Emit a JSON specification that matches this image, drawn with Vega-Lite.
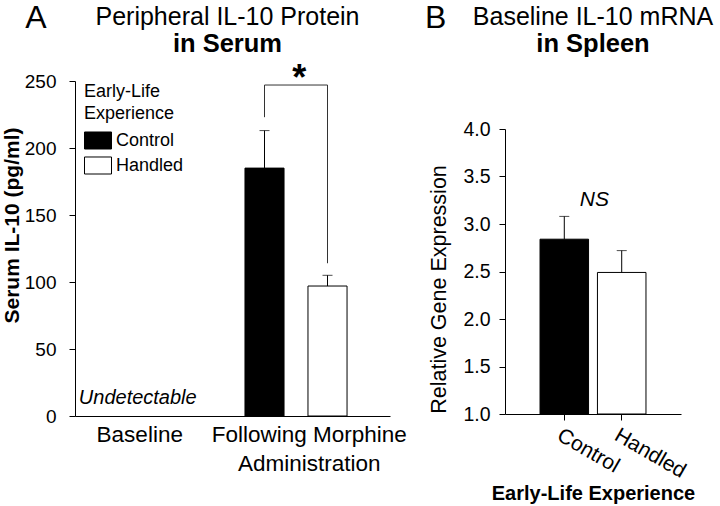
{
  "$schema": "https://vega.github.io/schema/vega-lite/v6.json",
  "background": "white",
  "padding": {"left": 1, "top": 1, "right": 0, "bottom": 0},
  "config": {
    "font": "Liberation Sans",
    "view": {"stroke": null},
    "axis": {"domainColor": "black", "tickColor": "black", "labelColor": "black", "titleColor": "black", "grid": false, "labelFontSize": 19, "titleFontSize": 22, "tickSize": 6, "domainWidth": 1, "tickWidth": 1},
    "title": {"color": "black", "subtitleColor": "black"},
    "legend": {"labelColor": "black", "titleColor": "black"}
  },
  "spacing": 17,
  "resolve": {"scale": {"fill": "independent"}, "legend": {"fill": "independent"}},
  "hconcat": [
    {
      "title": {"text": "A", "fontSize": 32, "fontWeight": "normal", "anchor": "start", "offset": -30, "dx": 24},
      "resolve": {"scale": {"fill": "independent"}, "legend": {"fill": "independent"}},
      "vconcat": [
        {
          "width": 315,
          "height": 359,
          "title": {"text": "Peripheral IL-10 Protein", "subtitle": "in Serum", "fontSize": 25, "fontWeight": "normal", "subtitleFontSize": 25.5, "subtitleFontWeight": "bold", "subtitlePadding": 2, "frame": "group", "offset": 0, "anchor": "middle", "dx": -5},
          "layer": [
            {
              "data": {"values": [
                {"cond": "Following Morphine Administration", "group": "Control", "mean": 185, "err": 213},
                {"cond": "Following Morphine Administration", "group": "Handled", "mean": 97, "err": 105}
              ]},
              "mark": {"type": "bar", "stroke": "black", "strokeWidth": 1},
              "encoding": {
                "x": {"field": "cond", "type": "nominal", "scale": {"domain": ["Baseline", "Following Morphine Administration"], "paddingInner": 0, "paddingOuter": 0},
                  "axis": {"title": null, "ticks": false, "labelAngle": 0, "labelFontSize": 22.5, "labelPadding": 7, "labelLineHeight": 29, "labelLimit": 400,
                    "labelExpr": "datum.value == 'Baseline' ? 'Baseline' : ['Following Morphine', 'Administration']",
                    "labelOffset": {"condition": {"test": "datum.value == 'Baseline'", "value": -14}, "value": -2}}},
                "xOffset": {"field": "group", "type": "nominal", "scale": {"domain": ["Control", "Handled"], "paddingInner": 0.38, "paddingOuter": 0.44, "align": 0.225}},
                "y": {"field": "mean", "type": "quantitative", "scale": {"domain": [0, 250], "nice": false, "range": [359, 24]},
                  "axis": {"values": [0, 50, 100, 150, 200, 250], "title": "Serum IL-10 (pg/ml)", "titleFontWeight": "bold", "titleFontSize": 21, "labelPadding": 13, "titlePadding": 2, "titleY": 168}},
                "fill": {"field": "group", "type": "nominal", "scale": {"domain": ["Control", "Handled"], "range": ["black", "white"]},
                  "legend": {"orient": "none", "legendX": 9, "legendY": 26, "title": ["Early-Life", "Experience"], "titleFontSize": 18, "titleFontWeight": "normal", "titleLineHeight": 22, "titlePadding": 5, "labelFontSize": 18, "labelOffset": 4, "symbolType": "M-1,-0.63H1V0.63H-1Z", "symbolSize": 729, "symbolStrokeColor": "black", "symbolStrokeWidth": 1, "padding": 0, "rowPadding": 0, "clipHeight": 25}}
              }
            },
            {
              "data": {"values": [
                {"cond": "Following Morphine Administration", "group": "Control", "mean": 185, "err": 213},
                {"cond": "Following Morphine Administration", "group": "Handled", "mean": 97, "err": 105}
              ]},
              "mark": {"type": "rule", "color": "black", "strokeWidth": 1},
              "encoding": {
                "x": {"field": "cond", "type": "nominal"},
                "xOffset": {"field": "group", "type": "nominal"},
                "y": {"field": "mean", "type": "quantitative"},
                "y2": {"field": "err"}
              }
            },
            {
              "data": {"values": [
                {"cond": "Following Morphine Administration", "group": "Control", "mean": 185, "err": 213},
                {"cond": "Following Morphine Administration", "group": "Handled", "mean": 97, "err": 105}
              ]},
              "mark": {"type": "tick", "color": "black", "size": 10, "thickness": 1},
              "encoding": {
                "x": {"field": "cond", "type": "nominal"},
                "xOffset": {"field": "group", "type": "nominal"},
                "y": {"field": "err", "type": "quantitative"}
              }
            },
            {
              "data": {"values": [
                {"cond": "Following Morphine Administration", "group": "Control", "y": 223, "o": 1},
                {"cond": "Following Morphine Administration", "group": "Control", "y": 247, "o": 2},
                {"cond": "Following Morphine Administration", "group": "Handled", "y": 247, "o": 3},
                {"cond": "Following Morphine Administration", "group": "Handled", "y": 114, "o": 4}
              ]},
              "mark": {"type": "line", "color": "#333333", "strokeWidth": 1},
              "encoding": {
                "x": {"field": "cond", "type": "nominal"},
                "xOffset": {"field": "group", "type": "nominal"},
                "y": {"field": "y", "type": "quantitative"},
                "order": {"field": "o", "type": "quantitative"}
              }
            },
            {
              "data": {"values": [
                {"cond": "Following Morphine Administration", "label": "*", "y": 243}
              ]},
              "mark": {"type": "text", "fontSize": 36, "fontWeight": "bold", "color": "black", "baseline": "alphabetic", "dx": -12},
              "encoding": {
                "x": {"field": "cond", "type": "nominal"},
                "y": {"field": "y", "type": "quantitative"},
                "text": {"field": "label"}
              }
            },
            {
              "data": {"values": [
                {"cond": "Baseline", "label": "Undetectable", "y": 9}
              ]},
              "mark": {"type": "text", "fontSize": 20, "fontStyle": "italic", "color": "black", "baseline": "alphabetic", "dx": -16},
              "encoding": {
                "x": {"field": "cond", "type": "nominal"},
                "y": {"field": "y", "type": "quantitative"},
                "text": {"field": "label"}
              }
            }
          ]
        }
      ]
    },
    {
      "title": {"text": "B", "fontSize": 32, "fontWeight": "normal", "anchor": "start", "offset": -30, "dx": -4},
      "resolve": {"scale": {"fill": "independent"}, "legend": {"fill": "independent"}},
      "vconcat": [
        {
          "width": 176,
          "height": 357,
          "title": {"text": "Baseline IL-10 mRNA", "subtitle": "in Spleen", "fontSize": 25, "fontWeight": "normal", "subtitleFontSize": 25.5, "subtitleFontWeight": "bold", "subtitlePadding": 2, "frame": "group", "offset": 0, "anchor": "middle"},
          "data": {"values": [
            {"group": "Control", "mean": 2.84, "err": 3.08},
            {"group": "Handled", "mean": 2.49, "err": 2.72}
          ]},
          "layer": [
            {
              "mark": {"type": "bar", "stroke": "black", "strokeWidth": 1},
              "encoding": {
                "x": {"field": "group", "type": "nominal", "scale": {"domain": ["Control", "Handled"], "paddingInner": 0.155, "paddingOuter": 0.61},
                  "axis": {"title": "Early-Life Experience", "titleFontWeight": "bold", "titleFontSize": 20, "labelAngle": 30, "labelAlign": "left", "labelBaseline": "top", "labelFontSize": 21, "labelPadding": 4, "titlePadding": 2}},
                "y": {"field": "mean", "type": "quantitative", "scale": {"domain": [1, 4], "zero": false, "nice": false, "range": [357, 72]},
                  "axis": {"values": [1, 1.5, 2, 2.5, 3, 3.5, 4], "format": ".1f", "title": "Relative Gene Expression", "titleFontWeight": "normal", "titleFontSize": 21.5, "labelFontSize": 19.5, "labelPadding": 9, "titlePadding": 12, "titleY": 232}},
                "y2": {"datum": 1},
                "fill": {"field": "group", "type": "nominal", "scale": {"domain": ["Control", "Handled"], "range": ["black", "white"]}, "legend": null}
              }
            },
            {
              "mark": {"type": "rule", "color": "black", "strokeWidth": 1},
              "encoding": {
                "x": {"field": "group", "type": "nominal"},
                "y": {"field": "mean", "type": "quantitative"},
                "y2": {"field": "err"}
              }
            },
            {
              "mark": {"type": "tick", "color": "black", "size": 10, "thickness": 1},
              "encoding": {
                "x": {"field": "group", "type": "nominal"},
                "y": {"field": "err", "type": "quantitative"}
              }
            },
            {
              "data": {"values": [{"group": "Handled", "label": "NS", "y": 3.19}]},
              "mark": {"type": "text", "fontSize": 21, "fontStyle": "italic", "color": "black", "baseline": "alphabetic", "align": "center", "dx": -3},
              "encoding": {
                "x": {"field": "group", "type": "nominal", "bandPosition": 0},
                "y": {"field": "y", "type": "quantitative"},
                "text": {"field": "label"}
              }
            }
          ]
        }
      ]
    }
  ]
}
